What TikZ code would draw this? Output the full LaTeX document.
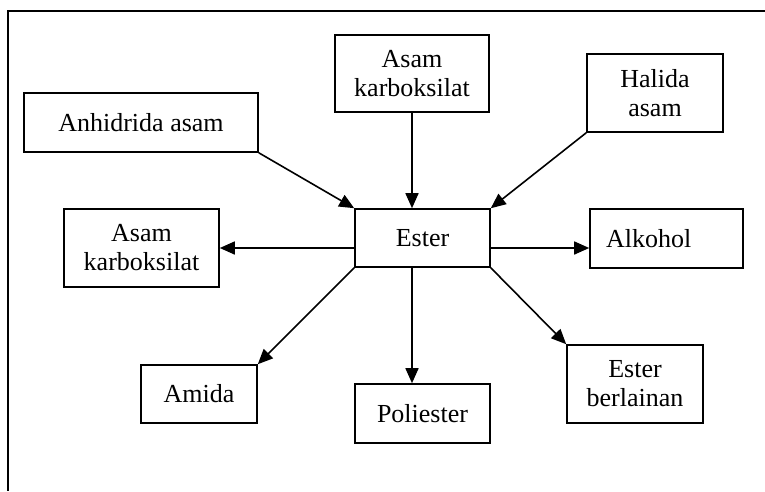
\documentclass[tikz,border=0pt]{standalone}
\usepackage{fontspec}
\setmainfont{Liberation Serif}
\usetikzlibrary{arrows.meta}

\tikzset{
  box/.style={draw, line width=1.6pt, align=center, inner sep=0pt,
    font=\fontsize{26}{29}\selectfont},
  conv/.style={line width=1.6pt, -{Triangle[length=15pt, width=13pt]}},
}

\begin{document}
\begin{tikzpicture}[x=1pt, y=-1pt]
  \useasboundingbox (0,0) rectangle (765,491);
  \draw[line width=1.3pt] (765,11) -- (8,11) -- (8,491);

  \node [box, minimum width=234pt, minimum height=59pt] (anhidrida) at (141,122.5) {Anhidrida asam};
  \node [box, minimum width=154pt, minimum height=77pt] (karboatas) at (412,73.5) {Asam\\karboksilat};
  \node [box, minimum width=136pt, minimum height=78pt] (halida) at (655,93) {Halida\\asam};
  \node [box, minimum width=155pt, minimum height=78pt] (karbokiri) at (141.5,248) {Asam\\karboksilat};
  \node [box, minimum width=135pt, minimum height=58pt] (ester) at (422.5,238) {Ester};
  \node [box, align=left, inner xsep=16pt, text width=121pt, minimum height=59pt] (alkohol) at (666.5,238.5) {Alkohol};
  \node [box, minimum width=116pt, minimum height=58pt] (amida) at (199,394) {Amida};
  \node [box, minimum width=135pt, minimum height=59pt] (poliester) at (422.5,413.5) {Poliester};
  \node [box, minimum width=136pt, minimum height=78pt] (berlainan) at (635,384) {Ester\\berlainan};

  % masuk ke ester
  \draw [conv] (anhidrida.south east) -- (ester.north west);
  \draw [conv] (karboatas.south) -- (karboatas.south |- ester.north);
  \draw [conv] (halida.south west) -- (ester.north east);
  % keluar dari ester
  \draw [conv] (ester.west |- karbokiri) -- (karbokiri.east);
  \draw [conv] (ester.east |- karbokiri) -- (alkohol.west |- karbokiri);
  \draw [conv] (ester.south west) -- (amida.north east);
  \draw [conv] (karboatas.south |- ester.south) -- (karboatas.south |- poliester.north);
  \draw [conv] (ester.south east) -- (berlainan.north west);
\end{tikzpicture}
\end{document}
